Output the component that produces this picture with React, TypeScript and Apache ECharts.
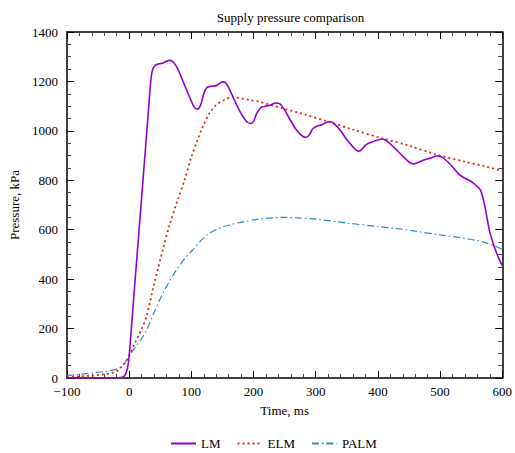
import React, { useEffect, useRef } from "react";
import * as echarts from "echarts";

const lmX = [-100, -80, -60, -40, -20, -10, -5, -2, 0, 5, 10, 15, 20, 25, 30, 35, 38, 42, 46, 50, 55, 60, 65, 70, 75, 80, 90, 100, 105, 110, 115, 120, 125, 130, 140, 145, 150, 155, 160, 170, 180, 190, 196, 200, 205, 212, 220, 228, 236, 242, 250, 260, 270, 280, 285, 290, 295, 300, 310, 320, 325, 330, 340, 350, 360, 368, 372, 380, 388, 400, 407, 415, 425, 440, 450, 457, 465, 474, 485, 495, 502, 510, 520, 530, 540, 550, 557, 565, 572, 580, 588, 595, 600];
const lmY = [0, 0, 0, 0, 1, 4, 20, 50, 90, 250, 410, 570, 730, 890, 1050, 1210, 1250, 1265, 1270, 1272, 1275, 1282, 1285, 1280, 1265, 1240, 1180, 1120, 1095, 1088, 1105, 1150, 1175, 1180, 1183, 1192, 1198, 1195, 1175, 1120, 1070, 1035, 1030, 1038, 1070, 1095, 1100, 1105, 1113, 1110, 1085, 1040, 1000, 976, 974, 985, 1008, 1017, 1025, 1037, 1036, 1028, 1000, 965, 935, 918, 920, 942, 953, 963, 967, 958, 935, 898, 874, 866, 872, 882, 890, 898, 895, 880, 855, 825, 808, 795, 781, 760, 695, 590, 525, 480, 455];

const elmX = [-100, -80, -60, -40, -30, -20, -15, -10, -7, -3, 0, 10, 20, 28, 40, 54, 65, 78, 89, 100, 108, 118, 129, 140, 153, 166, 180, 193, 209, 230, 247, 280, 321, 360, 407, 450, 492, 540, 570, 594, 600];
const elmY = [3, 6, 10, 15, 19, 28, 39, 50, 60, 75, 90, 145, 198, 250, 380, 518, 620, 720, 800, 895, 950, 1015, 1071, 1105, 1125, 1138, 1132, 1125, 1118, 1103, 1091, 1068, 1037, 1005, 970, 940, 906, 875, 858, 842, 838];

const palmX = [-100, -80, -58, -40, -26, -15, -10, -5, 0, 10, 20, 28, 40, 49, 60, 76, 90, 102, 115, 129, 145, 161, 185, 209, 230, 247, 270, 300, 353, 400, 433, 460, 500, 540, 570, 591, 600];
const palmY = [10, 15, 21, 26, 32, 42, 53, 70, 90, 125, 160, 194, 265, 316, 370, 437, 485, 518, 555, 586, 606, 619, 633, 643, 648, 650, 648, 643, 626, 613, 604, 594, 579, 565, 550, 531, 520];

const seriesNames = ["LM", "ELM", "PALM"];
const titleText = "Supply pressure comparison";
const xName = "Time, ms";
const yName = "Pressure, kPa";

const FONT = "Liberation Serif";

function pairs(xs: number[], ys: number[]) {
  return xs.map((x, i) => [x, ys[i]]);
}

export default function App() {
  const ref = useRef<HTMLDivElement>(null);
  useEffect(() => {
    if (!ref.current) return;
    const chart = echarts.init(ref.current, null, { renderer: "svg" });
    const axisCommon = {
      axisLine: { show: true, onZero: false, lineStyle: { color: "#000", width: 1.5 } },
      axisTick: { show: true, inside: true, length: 7, lineStyle: { color: "#000", width: 1 } },
      minorTick: { show: true, length: 4, lineStyle: { color: "#444", width: 1 } },
      splitLine: { show: false },
      minorSplitLine: { show: false },
    };
    chart.setOption({
      animation: false,
      backgroundColor: "#fff",
      textStyle: { fontFamily: FONT, color: "#000" },
      title: {
        text: titleText,
        left: 285.5,
        textAlign: "center",
        top: 6,
        textStyle: { fontFamily: FONT, fontSize: 13, fontWeight: "normal", color: "#000" },
      },
      legend: {
        data: seriesNames,
        top: 432,
        left: 165,
        itemWidth: 25,
        itemHeight: 12,
        itemGap: 16,
        itemStyle: { opacity: 0 },
        textStyle: { fontFamily: FONT, fontSize: 13, color: "#000" },
      },
      grid: { left: 67, right: 11, top: 32, bottom: 75 },
      xAxis: [
        {
          ...axisCommon,
          type: "value",
          min: -100,
          max: 600,
          interval: 100,
          minorTick: { ...axisCommon.minorTick, splitNumber: 5 },
          position: "bottom",
          name: xName,
          nameLocation: "middle",
          nameGap: 26,
          nameTextStyle: { fontFamily: FONT, fontSize: 13, color: "#000" },
          axisLabel: {
            fontFamily: FONT,
            fontSize: 13,
            color: "#000",
            margin: 7,
            formatter: (v: number) => (v < 0 ? "\u2212" + Math.abs(v) : String(v)),
          },
        },
        {
          ...axisCommon,
          type: "value",
          min: -100,
          max: 600,
          interval: 100,
          minorTick: { ...axisCommon.minorTick, splitNumber: 5 },
          position: "top",
          axisLabel: { show: false },
        },
      ],
      yAxis: [
        {
          ...axisCommon,
          type: "value",
          min: 0,
          max: 1400,
          interval: 200,
          minorTick: { ...axisCommon.minorTick, splitNumber: 4 },
          position: "left",
          name: yName,
          nameLocation: "middle",
          nameGap: 38,
          nameTextStyle: { fontFamily: FONT, fontSize: 13, color: "#000" },
          axisLabel: {
            fontFamily: FONT,
            fontSize: 13,
            color: "#000",
            margin: 9,
            formatter: (v: number) => String(v),
          },
        },
        {
          ...axisCommon,
          type: "value",
          min: 0,
          max: 1400,
          interval: 200,
          minorTick: { ...axisCommon.minorTick, splitNumber: 4 },
          position: "right",
          axisLabel: { show: false },
        },
      ],
      series: [
        {
          name: "LM",
          type: "line",
          data: pairs(lmX, lmY),
          showSymbol: false,
          symbol: "none",
          smooth: 0.3,
          lineStyle: { color: "#9400d3", width: 1.6, type: "solid" },
          itemStyle: { color: "#9400d3" },
          z: 5,
        },
        {
          name: "ELM",
          type: "line",
          data: pairs(elmX, elmY),
          showSymbol: false,
          symbol: "none",
          smooth: 0.3,
          lineStyle: { color: "#e8241c", width: 1.8, type: [2, 3] },
          itemStyle: { color: "#e8241c" },
          z: 4,
        },
        {
          name: "PALM",
          type: "line",
          data: pairs(palmX, palmY),
          showSymbol: false,
          symbol: "none",
          smooth: 0.3,
          lineStyle: { color: "#2a8cc4", width: 1.2, type: [7, 3, 1.5, 3] },
          itemStyle: { color: "#2a8cc4" },
          z: 3,
        },
      ],
    });
    return () => chart.dispose();
  }, []);
  return <div ref={ref} style={{ width: 515, height: 453, position: "absolute", left: 0, top: 0 }} />;
}
